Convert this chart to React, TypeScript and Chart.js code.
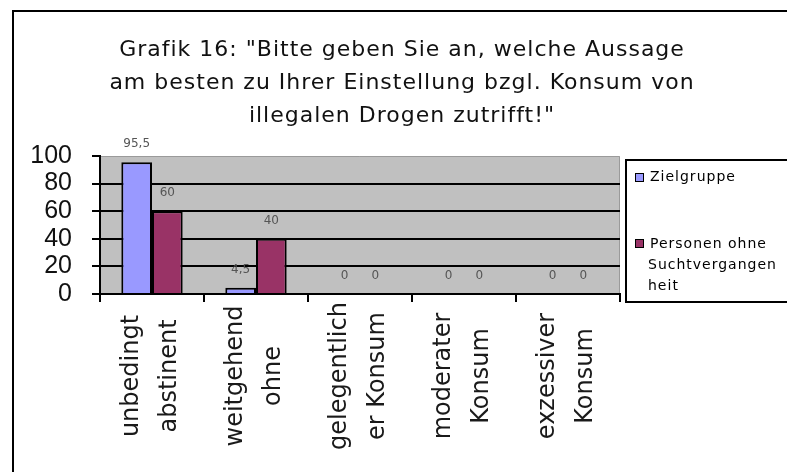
import React, { useEffect, useRef } from "react";
import { Chart, registerables } from "chart.js";

Chart.register(...registerables);

const titleLines = [
  'Grafik 16: "Bitte geben Sie an, welche Aussage',
  "am besten zu Ihrer Einstellung bzgl. Konsum von",
  'illegalen Drogen zutrifft!"',
];
const categoryLines = [
  ["unbedingt", "abstinent"],
  ["weitgehend", "ohne"],
  ["gelegentlich", "er Konsum"],
  ["moderater", "Konsum"],
  ["exzessiver", "Konsum"],
];
const seriesNames = ["Zielgruppe", "Personen ohne Suchtvergangenheit"];
const legendLines = [["Zielgruppe"], ["Personen ohne", "Suchtvergangen", "heit"]];
const zielgruppe = [95.5, 4.5, 0, 0, 0];
const personenOhne = [60, 40, 0, 0, 0];
const yTicks = [0, 20, 40, 60, 80, 100];

const BLUE = "#9999FF";
const RED = "#993366";
const SERIES_COLORS = [BLUE, RED];

const fmt = (v: number) => String(v).replace(".", ",");

const decorPlugin = {
  id: "decor",
  beforeDraw(chart: any) {
    const { ctx, chartArea } = chart;
    ctx.save();
    ctx.fillStyle = "#ffffff";
    ctx.fillRect(0, 0, chart.width, chart.height);
    // outer frame
    ctx.strokeStyle = "#000";
    ctx.lineWidth = 2;
    ctx.strokeRect(13, 11, 900, 600);
    // plot background
    ctx.fillStyle = "#C0C0C0";
    ctx.fillRect(chartArea.left, chartArea.top, chartArea.right - chartArea.left, chartArea.bottom - chartArea.top);
    ctx.strokeStyle = "#9a9a9a";
    ctx.lineWidth = 1;
    ctx.beginPath();
    ctx.moveTo(chartArea.left, chartArea.top + 0.5);
    ctx.lineTo(chartArea.right - 0.5, chartArea.top + 0.5);
    ctx.lineTo(chartArea.right - 0.5, chartArea.bottom);
    ctx.stroke();
    ctx.restore();
  },
  afterDraw(chart: any) {
    const { ctx } = chart;
    ctx.save();
    // title
    ctx.fillStyle = "#111";
    ctx.font = '22px "DejaVu Sans"';
    (ctx as any).letterSpacing = "1px";
    ctx.textAlign = "center";
    ctx.textBaseline = "alphabetic";
    titleLines.forEach((t, i) => ctx.fillText(t, 402, 56 + i * 33));

    // x category labels (rotated, centered lines)
    const xs = chart.scales.x;
    ctx.font = '24px "DejaVu Sans"';
    (ctx as any).letterSpacing = "0px";
    ctx.fillStyle = "#1a1a1a";
    categoryLines.forEach((lines, i) => {
      const cx = xs.getPixelForValue(i) - 1;
      lines.forEach((line, j) => {
        const px = cx + (j - (lines.length - 1) / 2) * 38;
        ctx.save();
        ctx.translate(px, 376);
        ctx.rotate(-Math.PI / 2);
        ctx.textAlign = "center";
        ctx.textBaseline = "middle";
        ctx.fillText(line, 0, 0);
        ctx.restore();
      });
    });

    // legend
    ctx.fillStyle = "#fff";
    ctx.fillRect(626, 160, 300, 142);
    ctx.strokeStyle = "#000";
    ctx.lineWidth = 2;
    ctx.strokeRect(626, 160, 300, 142);
    ctx.font = '14px "DejaVu Sans"';
    (ctx as any).letterSpacing = "1px";
    ctx.textAlign = "left";
    ctx.textBaseline = "middle";
    const entryY = [177, 244];
    const squares = [
      [635, 173],
      [635, 239],
    ];
    legendLines.forEach((lines, i) => {
      ctx.fillStyle = SERIES_COLORS[i];
      ctx.fillRect(squares[i][0], squares[i][1], 8, 8);
      ctx.strokeStyle = "#000";
      ctx.lineWidth = 1;
      ctx.strokeRect(squares[i][0] + 0.5, squares[i][1] + 0.5, 8, 8);
      ctx.fillStyle = "#000";
      lines.forEach((line, j) => {
        const tx = j === 0 ? 650 : 648;
        ctx.fillText(line, tx, entryY[i] + j * 21);
      });
    });
    ctx.restore();
  },
  afterDatasetsDraw(chart: any) {
    const { ctx } = chart;
    ctx.save();
    ctx.font = '12px "DejaVu Sans"';
    ctx.fillStyle = "#555";
    ctx.textAlign = "center";
    ctx.textBaseline = "middle";
    chart.data.datasets.forEach((ds: any, di: number) => {
      const meta = chart.getDatasetMeta(di);
      meta.data.forEach((el: any, i: number) => {
        ctx.fillText(fmt(ds.data[i]), el.x, el.y - 18);
      });
    });
    ctx.restore();
  },
};

export default function App() {
  const ref = useRef<HTMLCanvasElement>(null);
  useEffect(() => {
    document.body.style.margin = "0";
    const chart = new Chart(ref.current as HTMLCanvasElement, {
      type: "bar",
      data: {
        labels: categoryLines.map((l) => l.join(" ")),
        datasets: [
          {
            label: seriesNames[0],
            data: zielgruppe,
            backgroundColor: BLUE,
            borderColor: "#000",
            borderWidth: 2,
            barPercentage: 1,
            categoryPercentage: 0.59,
          },
          {
            label: seriesNames[1],
            data: personenOhne,
            backgroundColor: RED,
            borderColor: "#000",
            borderWidth: 2,
            barPercentage: 1,
            categoryPercentage: 0.59,
          },
        ],
      },
      options: {
        responsive: false,
        animation: false,
        devicePixelRatio: 1,
        layout: { padding: { top: 156, right: 167, left: 0, bottom: 0 } },
        plugins: {
          legend: { display: false },
          title: { display: false },
          tooltip: { enabled: false },
        },
        scales: {
          x: {
            grid: {
              display: true,
              drawOnChartArea: false,
              drawTicks: true,
              tickLength: 8,
              tickColor: "#000",
              lineWidth: 2,
              offset: true,
            },
            border: { display: true, color: "#000", width: 2 },
            ticks: { display: false },
            afterFit: (s: any) => {
              s.height = 472 - 294;
            },
          },
          y: {
            min: 0,
            max: 100,
            afterBuildTicks: (s: any) => {
              s.ticks = yTicks.map((v) => ({ value: v }));
            },
            grid: {
              color: (c: any) => (c.tick && c.tick.value === 100 ? "rgba(0,0,0,0)" : "#000"),
              tickColor: "#000",
              lineWidth: 2,
              tickLength: 8,
            },
            border: { display: true, color: "#000", width: 2 },
            ticks: {
              autoSkip: false,
              padding: 20,
              color: "#111",
              font: { family: '"Liberation Sans", Arial', size: 25, lineHeight: 1 },
            },
            afterFit: (s: any) => {
              s.width = 100;
            },
          },
        },
      },
      plugins: [decorPlugin],
    });
    return () => chart.destroy();
  }, []);
  return (
    <div style={{ position: "absolute", left: 0, top: 0, width: 787, height: 472, background: "#fff" }}>
      <canvas ref={ref} width={787} height={472} style={{ display: "block" }} />
    </div>
  );
}
